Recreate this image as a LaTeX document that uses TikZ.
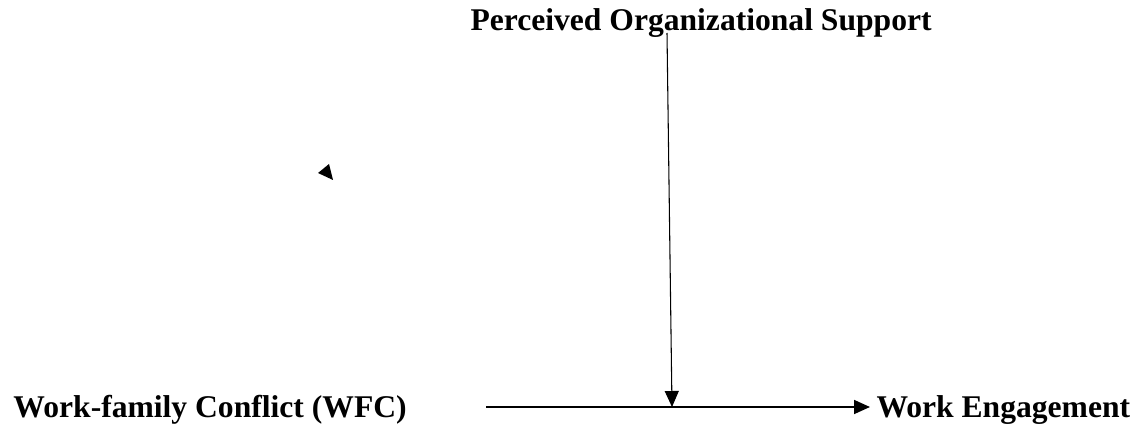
\documentclass[tikz,border=0pt]{standalone}
\usepackage{fontspec}
\setmainfont{Liberation Serif}
\usetikzlibrary{arrows.meta}

\tikzset{every picture/.style={line width=0.75pt}}
\tikzset{
  lbl/.style={inner sep=0pt, anchor=base west, font=\fontsize{23.7pt}{28pt}\selectfont\bfseries},
  tip/.style={-{Triangle[length=12pt,width=10.5pt]}}
}

\begin{document}
\begin{tikzpicture}[x=0.75pt,y=0.75pt,yscale=-1,xscale=1]
	\useasboundingbox (0,0) rectangle (1139,424);

	% Text Node
	\node[lbl] (pos) at (470,31) {Perceived Organizational Support};
	% Text Node
	\node[lbl] (wfc) at (13,417) {Work-family Conflict (WFC)};
	% Text Node
	\node[lbl] (we) at (876,417) {Work Engagement};

	\coordinate (hstart) at (486,407);
	\coordinate (htip) at (870,407);
	\coordinate (vtop) at (667,33);
	\coordinate (vtip) at (672,407);

	%Straight Lines
	\draw [tip, line width=1.3pt] (hstart) -- (htip);
	%Straight Lines
	\draw [tip, line width=0.8pt] (vtop) -- (vtip);

	%Shape: Triangle
	\fill (318,173) -- (329,164) -- (333,180) -- cycle;
\end{tikzpicture}
\end{document}
